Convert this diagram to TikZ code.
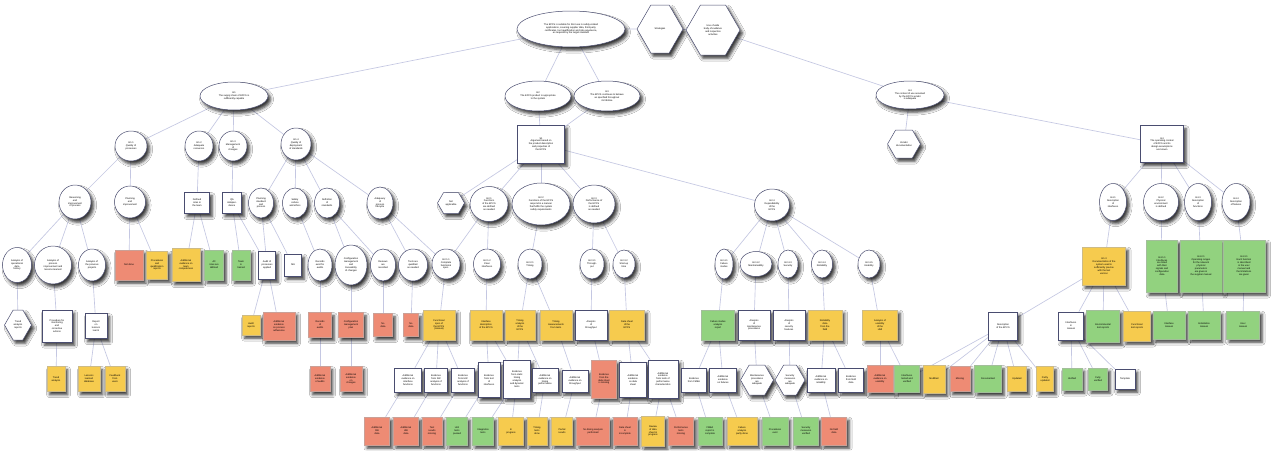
\documentclass[tikz,border=0pt]{standalone}
\usepackage{fontspec}
\setmainfont{Liberation Sans}
\usetikzlibrary{shapes.geometric,shapes.symbols,shadows.blur}
\pgfdeclarelayer{background}
\pgfsetlayers{background,main}
\definecolor{bord}{HTML}{4A4D70}
\definecolor{cred}{HTML}{EE8B74}
\definecolor{cyel}{HTML}{F6CB4E}
\definecolor{cgrn}{HTML}{92D27F}
\definecolor{cedge}{HTML}{C4C7E2}
\tikzset{
  nbase/.style={draw=bord, line width=0.5pt, inner sep=0.5pt, align=center,
    font=\fontsize{2.4}{2.9}\selectfont,
    blur shadow={shadow xshift=2.6pt, shadow yshift=-3.2pt, shadow blur radius=3pt, shadow opacity=80}},
  ell/.style={nbase, ellipse, fill=white},
  bx/.style={nbase, rectangle, fill=white},
  hx/.style={nbase, signal, signal to=west and east, signal pointer angle=120, fill=white},
  rd/.style={bx, fill=cred, draw=cred!70!black!60},
  yl/.style={bx, fill=cyel, draw=cyel!70!black!60},
  gr/.style={bx, fill=cgrn, draw=cgrn!70!black!60},
  wh/.style 2 args={minimum width=#1, minimum height=#2},
  edge/.style={draw=cedge, line width=0.65pt}
}
\begin{document}
\begin{tikzpicture}[x=1pt,y=-1pt]
\useasboundingbox (0,0) rectangle (1271,450);

% ---------- top claim and strategies ----------
\node[ell, wh={108}{36}] (root) at (571,29) {The EPCS is suitable for SIL3 use in safety-related\\applications, covering supplier data, third-party\\certificates, tool qualification and site experience,\\as required by the target standard};
\node[hx, wh={46}{48}] (strat) at (660,29) {Strategies};
\node[hx, wh={54}{50}] (hexb) at (713,30) {Use of wide\\body of evidence\\and inspection\\activities};

% ---------- level 1 ----------
\node[ell, wh={68}{28}] (g1) at (234,96) {G1\\The supply chain of EPCS is\\sufficiently capable};
\node[ell, wh={66}{30}] (g2) at (538,96) {G2\\The EPCS product is appropriate\\to the system};
\node[ell, wh={66}{30}] (g3) at (607,96) {G3\\The EPCS continues to behave\\as specified throughout\\its lifetime};
\node[ell, wh={68}{28}] (g4) at (910,95) {G4\\The context of use assumed\\by the EPCS vendor\\is adequate};

% ---------- level 2 ----------
\node[ell, wh={32}{30}] (g11) at (131,146) {G1.1\\Quality of\\processes};
\node[ell, wh={28}{30}] (g12) at (199,146) {G1.2\\Adequate\\resources};
\node[ell, wh={28}{30}] (g13) at (233,146) {G1.3\\Management\\of\\changes};
\node[ell, wh={30}{32}] (g14) at (296,144) {G1.4\\Quality of\\deployment\\of standards};
\node[bx, wh={47}{38}] (s1) at (541,144) {S1\\Argument based on\\the product description\\and properties of\\the EPCS};
\node[hx, wh={32}{28}] (vdoc) at (904,144) {Vendor\\documentation};
\node[bx, wh={43}{37}] (g4b) at (1162,144) {G4\\The operating context\\of EPCS and its\\design assumptions\\are known};

% ---------- level 3 ----------
\node[ell, wh={32}{34}] (a75) at (75,202) {Reasoning\\and\\improvement\\of process};
\node[ell, wh={31}{32}] (a130) at (130,202) {Planning\\and\\improvement};
\node[bx, wh={25}{21}] (a196) at (197,203) {Defined\\roles in\\the team};
\node[bx, wh={19}{21}] (a233) at (232,203) {QA\\indepen-\\dence};
\node[ell, wh={25}{30}] (a262) at (261,203) {Planning\\standard\\and\\process};
\node[ell, wh={25}{30}] (a295) at (295,203) {Safety\\culture\\and ethics};
\node[ell, wh={25}{30}] (a327) at (327,203) {Definition\\of\\standards};
\node[ell, wh={26}{32}] (a380) at (380,203) {Adequacy\\of\\process\\lifecycle};
\node[hx, wh={27}{21}] (a451) at (451,203) {Not\\applicable};
\node[ell, wh={38}{35}] (a489) at (489,204) {G2.1\\Functions\\of the EPCS\\are defined\\as needed};
\node[ell, wh={58}{42}] (a541) at (541,204) {G2.2\\Functions of the EPCS\\respond in a manner\\that fulfils the system\\safety requirements};
\node[ell, wh={42}{38}] (a594) at (594,204) {G2.3\\Performance of\\the EPCS\\is defined\\as needed};
\node[ell, wh={35}{32}] (a772) at (772,205) {G2.4\\Dependability\\of the\\EPCS};
\node[ell, wh={27}{37}] (a1113) at (1113,202) {G4.1\\Description\\of\\interfaces};
\node[ell, wh={35}{37}] (a1161) at (1161,202) {G4.2\\Physical\\environment\\is defined};
\node[ell, wh={27}{37}] (a1198) at (1198,202) {G4.3\\Description\\of\\functions};
\node[ell, wh={28}{37}] (a1236) at (1236,202) {G4.4\\Description\\of failures};

% ---------- level 4 ----------
\node[ell, wh={29}{35}] (b17) at (17,265) {Analysis of\\operational\\data\\history};
\node[ell, wh={37}{38}] (b53) at (53,265) {Analysis of\\process\\improvement and\\lessons learned};
\node[ell, wh={27}{32}] (b92) at (92,265) {Analysis of\\the previous\\projects};
\node[rd, wh={28}{30}] (b129) at (129,265) {Not done};
\node[yl, wh={21}{28}] (b157) at (157,265) {Procedures\\and\\qualification\\reports};
\node[yl, wh={28}{33}] (b186) at (186,265) {Additional\\evidence on\\team\\competences};
\node[gr, wh={19}{30}] (b214) at (214,265) {All\\roles are\\defined};
\node[gr, wh={18}{30}] (b241) at (241,265) {Team\\is\\trained};
\node[bx, wh={17}{28}] (b267) at (267,265) {Audit of\\processes\\applied};
\node[bx, wh={17}{22}] (b293) at (293,265) {N/A};
\node[ell, wh={24}{32}] (b320) at (320,265) {Records\\exist for\\audits};
\node[ell, wh={32}{40}] (b351) at (351,265) {Configuration\\management\\and\\traceability\\of changes};
\node[ell, wh={25}{32}] (b383) at (383,265) {Reviews\\are\\recorded};
\node[ell, wh={29}{32}] (b413) at (413,265) {Tools are\\qualified\\as needed};
\node[ell, wh={28}{30}] (b446) at (446,264) {G2.1.1\\Complete\\functional\\spec.};
\node[ell, wh={27}{30}] (b487) at (487,264) {G2.1.2\\Clear\\interfaces};
\node[ell, wh={24}{30}] (b530) at (530,264) {G2.2.1\\Timing};
\node[ell, wh={24}{30}] (b592) at (592,264) {G2.3.1\\Through-\\put};
\node[ell, wh={22}{28}] (b624) at (624,264) {G2.3.2\\Start-up\\time};
\node[ell, wh={18}{30}] (b724) at (724,264) {G2.4.1\\Failure\\modes};
\node[ell, wh={32}{25}] (b756) at (756,264) {G2.4.2\\Maintainability};
\node[ell, wh={20}{28}] (b788) at (788,264) {G2.4.3\\Security};
\node[ell, wh={21}{28}] (b822) at (822,264) {G2.4.4\\Reliability};
\node[ell, wh={22}{28}] (b869) at (869,264) {G2.4.5\\Usability};
\node[yl, wh={43}{38}] (b1104) at (1104,266) {G1.3\\Documentation of the\\system used is\\sufficiently precise\\with the last\\version};
\node[gr, wh={31}{52}] (b1162) at (1162,266) {G4.1.1\\Interfaces\\are listed\\with their\\signals and\\configuration\\data};
\node[gr, wh={42}{52}] (b1201) at (1201,266) {G4.2.1\\Operating ranges\\for the relevant\\physical\\parameters\\are given in\\the supplier manual};
\node[gr, wh={42}{52}] (b1244) at (1244,266) {G4.3.1\\Each function\\is described\\in the user\\manual and\\the limitations\\are given};

% ---------- level 5 ----------
\node[hx, wh={27}{30}] (c18) at (18,325) {Trend\\analysis\\reports};
\node[bx, wh={30}{32}] (c57) at (57,326) {Procedure for\\monitoring\\and\\corrective\\actions};
\node[bx, wh={22}{25}] (c96) at (96,326) {Report\\on\\lessons\\learnt};
\node[yl, wh={18}{20}] (c251) at (251,325) {Audit\\reports};
\node[rd, wh={32}{28}] (c279) at (279,326) {Additional\\evidence\\on process\\adherence};
\node[rd, wh={23}{25}] (c320) at (320,325) {Records\\of\\audits};
\node[rd, wh={25}{25}] (c351) at (351,325) {Configuration\\management\\plan};
\node[rd, wh={19}{23}] (c383) at (383,325) {No\\data};
\node[rd, wh={15}{23}] (c411) at (411,325) {No\\data};
\node[yl, wh={32}{30}] (c439) at (439,325) {Functional\\spec of\\the EPCS\\(manual)};
\node[yl, wh={32}{30}] (c486) at (486,325) {Interface\\description\\of the EPCS};
\node[yl, wh={30}{30}] (c520) at (520,325) {Timing\\analysis\\of the\\EPCS};
\node[yl, wh={32}{30}] (c556) at (556,325) {Timing\\measurements\\from tests};
\node[bx, wh={32}{30}] (c591) at (591,325) {Analysis\\of\\throughput};
\node[yl, wh={35}{30}] (c627) at (627,325) {Data sheet\\of the\\EPCS};
\node[gr, wh={33}{30}] (c718) at (718,325) {Failure modes\\analysis\\report};
\node[bx, wh={32}{30}] (c754) at (754,325) {Analysis\\of\\maintenance\\procedures};
\node[bx, wh={32}{30}] (c789) at (789,325) {Analysis\\of\\security\\features};
\node[yl, wh={34}{30}] (c825) at (825,325) {Reliability\\data\\from the\\field};
\node[yl, wh={35}{30}] (c880) at (880,325) {Analysis of\\usability\\of the\\HMI};
\node[bx, wh={29}{28}] (c1003) at (1003,326) {Description\\of the EPCS};
\node[bx, wh={25}{28}] (c1071) at (1071,326) {Interfaces\\in\\manual};
\node[gr, wh={33}{32}] (c1103) at (1103,326) {Environmental\\test reports};
\node[yl, wh={27}{30}] (c1137) at (1137,326) {Functional\\test reports};
\node[gr, wh={32}{28}] (c1169) at (1169,325) {Interface\\manual};
\node[gr, wh={32}{28}] (c1204) at (1204,325) {Installation\\manual};
\node[gr, wh={33}{28}] (c1243) at (1243,325) {User\\manual};

% ---------- level 6 ----------
\node[yl, wh={18}{25}] (d56) at (56,379) {Trend\\analysis};
\node[yl, wh={22}{25}] (d89) at (89,379) {Lessons\\learned\\database};
\node[yl, wh={20}{25}] (d115) at (115,379) {Feedback\\from\\users};
\node[rd, wh={20}{25}] (d320) at (320,379) {Additional\\evidence\\of audits};
\node[rd, wh={22}{25}] (d351) at (351,379) {Additional\\evidence\\on\\changes};
\node[bx, wh={27}{24}] (d408) at (408,380) {Additional\\evidence on\\interface\\functions};
\node[bx, wh={23}{24}] (d436) at (436,380) {Evidence\\from SW\\analysis of\\functions};
\node[bx, wh={23}{24}] (d463) at (463,380) {Evidence\\from HW\\analysis of\\functions};
\node[bx, wh={22}{35}] (d489) at (489,380) {Evidence\\from test\\of\\interfaces};
\node[bx, wh={27}{38}] (d517) at (517,379) {Evidence\\from static\\timing\\analysis\\and dynamic\\tests};
\node[bx, wh={26}{24}] (d545) at (545,380) {Additional\\evidence on\\timing\\performance};
\node[bx, wh={26}{22}] (d575) at (575,381) {Additional\\evidence on\\throughput};
\node[rd, wh={25}{38}] (d604) at (604,379) {Evidence\\from the\\data sheet\\is missing};
\node[bx, wh={27}{35}] (d633) at (633,380) {Additional\\evidence\\on data\\sheet};
\node[bx, wh={30}{38}] (d663) at (663,379) {Additional\\evidence\\from tests of\\performance\\characteristics};
\node[bx, wh={25}{24}] (d694) at (694,380) {Evidence\\from FMEA};
\node[bx, wh={27}{24}] (d723) at (723,380) {Additional\\evidence\\on failures};
\node[hx, wh={33}{30}] (d757) at (757,380) {Maintenance\\procedures\\are\\adequate};
\node[hx, wh={30}{30}] (d790) at (790,380) {Security\\measures\\are\\adequate};
\node[bx, wh={28}{24}] (d821) at (821,380) {Additional\\evidence on\\reliability};
\node[bx, wh={25}{24}] (d851) at (851,380) {Evidence\\from field\\data};
\node[rd, wh={26}{27}] (d880) at (880,379) {Additional\\evidence on\\usability};
\node[gr, wh={25}{27}] (d907) at (907,379) {Interfaces\\tested and\\verified};
\node[yl, wh={22}{28}] (d934) at (934,379) {Modified};
\node[rd, wh={20}{25}] (d960) at (960,379) {Missing};
\node[gr, wh={27}{27}] (d988) at (988,379) {Documented};
\node[yl, wh={19}{25}] (d1017) at (1017,379) {Updated};
\node[yl, wh={17}{25}] (d1045) at (1045,379) {Partly\\updated};
\node[gr, wh={20}{22}] (d1072) at (1072,379) {Verified};
\node[gr, wh={19}{22}] (d1098) at (1098,379) {Fully\\verified};
\node[bx, wh={20}{20}] (d1125) at (1125,379) {Template};

% ---------- level 7 ----------
\node[rd, wh={25}{28}] (e377) at (377,431) {Additional\\SW\\data};
\node[rd, wh={25}{28}] (e406) at (406,431) {Additional\\HW\\data};
\node[rd, wh={20}{28}] (e432) at (432,431) {Test\\results\\missing};
\node[gr, wh={21}{28}] (e457) at (457,431) {Unit\\tests\\passed};
\node[gr, wh={21}{28}] (e483) at (483,431) {Integration\\tests};
\node[yl, wh={25}{28}] (e511) at (511,431) {In\\progress};
\node[yl, wh={20}{28}] (e537) at (537,431) {Timing\\tests\\done};
\node[yl, wh={21}{28}] (e562) at (562,431) {Partial\\results};
\node[rd, wh={33}{28}] (e593) at (593,431) {No timing analysis\\performed};
\node[rd, wh={24}{28}] (e625) at (625,431) {Data sheet\\is\\incomplete};
\node[yl, wh={23}{30}] (e653) at (653,431) {Review\\of data\\sheet in\\progress};
\node[rd, wh={25}{28}] (e681) at (681,431) {Performance\\tests\\missing};
\node[gr, wh={24}{28}] (e710) at (710,431) {FMEA\\report is\\complete};
\node[yl, wh={30}{28}] (e742) at (742,431) {Failure\\analysis\\partly done};
\node[gr, wh={26}{28}] (e775) at (775,431) {Procedures\\exist};
\node[gr, wh={25}{28}] (e806) at (806,431) {Security\\measures\\verified};
\node[rd, wh={25}{28}] (e834) at (834,431) {No field\\data};

% ---------- connectors, under the nodes ----------
\begin{pgfonlayer}{background}
\fill[white] (0,0) rectangle (1271,450);
\foreach \a/\b in {root/strat, strat/hexb, root/g1, root/g2, root/g3, hexb/g4,
  g1/g11, g1/g12, g1/g13, g1/g14, g2/s1, g3/s1, g4/vdoc, g4/g4b,
  g11/a75, g11/a130, g12/a196, g13/a233, g14/a262, g14/a295, g14/a327, g14/a380,
  s1/a451, s1/a489, s1/a541, s1/a594, s1/a772,
  g4b/a1113, g4b/a1161, g4b/a1198, g4b/a1236,
  a75/b17, a75/b53, a75/b92, a130/b129, a130/b157, a196/b186, a196/b214,
  a233/b241, a233/b267, a262/b267, a262/b293, a295/b320, a327/b351, a327/b383,
  a380/b413, a380/b446, a489/b446, a489/b487, a541/b530, a594/b592, a594/b624,
  a772/b724, a772/b756, a772/b788, a772/b822, a772/b869,
  a1113/b1104, a1161/b1162, a1198/b1201, a1236/b1244,
  b17/c18, b53/c57, b92/c96, b267/c251, b267/c279, b320/c320, b351/c351,
  b383/c383, b413/c411, b446/c439, b487/c486, b530/c520, b530/c556, b592/c591,
  b624/c627, b724/c718, b756/c754, b788/c789, b822/c825, b869/c880,
  b1104/c1003, b1104/c1071, b1104/c1103, b1104/c1137,
  b1162/c1169, b1201/c1204, b1244/c1243,
  c57/d56, c96/d89, c96/d115, c320/d320, c351/d351,
  c439/d408, c439/d436, c439/d463, c486/d489, c486/d517, c520/d517, c520/d545,
  c556/d575, c591/d604, c627/d633, c627/d663, c718/d694, c718/d723,
  c754/d757, c789/d790, c825/d821, c825/d851, c880/d880, c880/d907,
  c1003/d907, c1003/d934, c1003/d960, c1003/d988, c1003/d1017, c1003/d1045,
  c1071/d1072, c1071/d1098, c1071/d1125,
  d408/e377, d436/e406, d463/e432, d489/e457, d517/e483, d517/e511,
  d545/e537, d575/e562, d604/e593, d633/e625, d663/e653, d663/e681,
  d694/e710, d723/e742, d757/e775, d790/e806, d821/e834}
  \draw[edge] (\a) -- (\b);
\end{pgfonlayer}
\end{tikzpicture}
\end{document}
